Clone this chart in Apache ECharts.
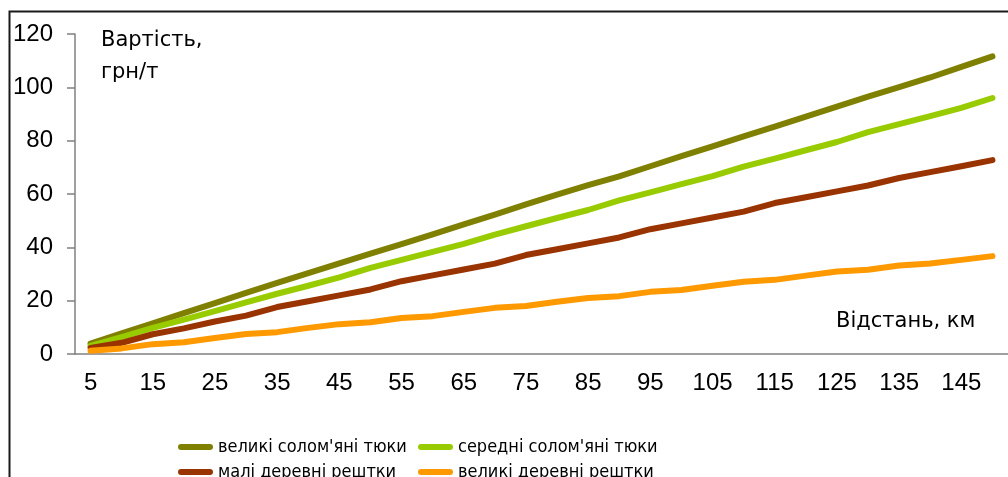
<!DOCTYPE html>
<html>
<head>
<meta charset="utf-8">
<style>
  html, body { margin: 0; padding: 0; background: #ffffff; }
  #chart { width: 1008px; height: 477px; }
</style>
<script src="https://cdn.jsdelivr.net/npm/echarts@6/dist/echarts.min.js"></script>
</head>
<body>
<div id="chart"></div>
<script>
// Відстань перевезення, км
const distances = ['5','10','15','20','25','30','35','40','45','50','55','60','65','70','75',
                   '80','85','90','95','100','105','110','115','120','125','130','135','140','145','150'];

// Вартість перевезення, грн/т
const largeStrawBales = [3.9, 7.7, 11.5, 15.3, 19.1, 22.9, 26.7, 30.3, 34.0, 37.6, 41.2, 44.9, 48.6, 52.3, 56.1,
                         59.8, 63.3, 66.6, 70.4, 74.2, 77.9, 81.6, 85.3, 89.0, 92.8, 96.5, 100.1, 103.7, 107.7, 111.6];
const mediumStrawBales = [3.0, 6.3, 9.8, 12.9, 16.1, 19.4, 22.6, 25.6, 28.7, 32.3, 35.3, 38.3, 41.3, 44.8, 47.9,
                          51.0, 54.0, 57.6, 60.6, 63.7, 66.7, 70.3, 73.3, 76.4, 79.5, 83.2, 86.2, 89.2, 92.3, 96.0];
const smallWoodResidues = [2.3, 4.2, 7.4, 9.6, 12.2, 14.4, 17.6, 19.8, 22.0, 24.2, 27.3, 29.5, 31.7, 33.9, 37.1,
                           39.3, 41.5, 43.7, 46.8, 49.0, 51.2, 53.4, 56.6, 58.8, 61.0, 63.2, 66.0, 68.2, 70.4, 72.7];
const largeWoodResidues = [1.2, 2.1, 3.7, 4.4, 6.0, 7.5, 8.2, 9.8, 11.2, 11.9, 13.5, 14.2, 15.8, 17.3, 18.0,
                           19.6, 21.0, 21.7, 23.3, 24.0, 25.6, 27.1, 27.8, 29.4, 30.9, 31.6, 33.2, 33.9, 35.3, 36.7];

const seriesNames = ["великі солом'яні тюки", "середні солом'яні тюки", "малі деревні рештки", "великі деревні рештки"];
const seriesColors = ['#808000', '#99cc00', '#993300', '#ff9900'];
const yTicks = { min: 0, max: 120, interval: 20 };

const chart = echarts.init(document.getElementById('chart'), null, { renderer: 'canvas' });

const capsule = 'path://M3,0 L32,0 A3,3 0 0 1 32,6 L3,6 A3,3 0 0 1 3,0 Z';
const valuesBySeries = [largeStrawBales, mediumStrawBales, smallWoodResidues, largeWoodResidues];

// legend slots: two columns, two rows
const legendSlots = [
  { left: 178, top: 433 },
  { left: 418, top: 433 },
  { left: 178, top: 458 },
  { left: 418, top: 458 }
];

const legendText = {
  fontFamily: '"DejaVu Sans Condensed", "Liberation Sans", Arial, sans-serif',
  fontSize: 18,
  color: '#000',
  lineHeight: 20,
  padding: [0, 0, 8, 0]
};

chart.setOption({
  animation: false,
  backgroundColor: '#ffffff',
  grid: { left: 75, top: 34, width: 945, height: 320, containLabel: false },
  xAxis: {
    type: 'category',
    data: distances,
    boundaryGap: true,
    axisLine: { lineStyle: { color: '#808080', width: 1.5 } },
    axisTick: { interval: 0, length: 7, inside: false, lineStyle: { color: '#808080', width: 1.5 } },
    axisLabel: {
      interval: 1,
      margin: 17,
      color: '#000',
      fontSize: 24,
      fontFamily: '"Liberation Sans", Arial, sans-serif'
    },
    splitLine: { show: false }
  },
  yAxis: {
    type: 'value',
    min: yTicks.min,
    max: yTicks.max,
    interval: yTicks.interval,
    axisLine: { show: true, lineStyle: { color: '#808080', width: 1.5 } },
    axisTick: { show: true, length: 8, lineStyle: { color: '#808080', width: 1.5 } },
    axisLabel: {
      margin: 22,
      color: '#000',
      fontSize: 24,
      fontFamily: '"Liberation Sans", Arial, sans-serif'
    },
    splitLine: { show: false }
  },
  legend: seriesNames.map((name, i) => ({
    orient: 'horizontal',
    left: legendSlots[i].left,
    top: legendSlots[i].top,
    padding: 0,
    itemWidth: 35,
    itemHeight: 6,
    icon: capsule,
    data: [name],
    textStyle: legendText
  })),
  series: valuesBySeries.map((vals, i) => ({
    name: seriesNames[i],
    type: 'line',
    data: vals,
    symbol: 'none',
    smooth: false,
    color: seriesColors[i],
    lineStyle: { color: seriesColors[i], width: 6, cap: 'round', join: 'round' },
    itemStyle: { color: seriesColors[i] }
  })),
  graphic: [
    {
      type: 'polyline',
      silent: true,
      shape: { points: [[9.5, 477], [9.5, 11.5], [1008, 11.5]] },
      style: { stroke: '#1a1a1a', lineWidth: 2, fill: null }
    },
    {
      type: 'text',
      left: 101,
      top: 25,
      style: {
        text: 'Вартість,\nгрн/т',
        font: '21px "DejaVu Sans", sans-serif',
        fill: '#000',
        lineHeight: 32
      }
    },
    {
      type: 'text',
      left: 836,
      top: 311,
      style: {
        text: 'Відстань, км',
        font: '21px "DejaVu Sans", sans-serif',
        fill: '#000'
      }
    }
  ]
});
</script>
</body>
</html>
